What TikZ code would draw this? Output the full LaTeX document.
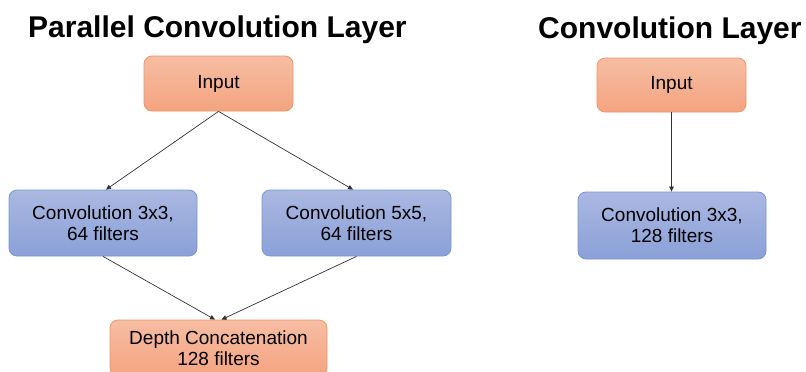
\documentclass[tikz,border=0pt]{standalone}
\usepackage{fontspec}
\setmainfont{Liberation Sans}
\usetikzlibrary{arrows.meta,calc}
\definecolor{orTop}{RGB}{246,189,163}
\definecolor{orBot}{RGB}{244,164,128}
\definecolor{orLine}{RGB}{240,148,100}
\definecolor{blTop}{RGB}{171,184,226}
\definecolor{blBot}{RGB}{138,160,215}
\definecolor{blLine}{RGB}{118,150,214}
\definecolor{arr}{RGB}{50,50,50}
\tikzset{
  orbox/.style={draw=orLine, line width=0.8pt, rounded corners=8pt, top color=orTop, bottom color=orBot, inner sep=0pt, align=center, font=\fontsize{19}{21}\selectfont},
  blbox/.style={draw=blLine, line width=0.8pt, rounded corners=8pt, top color=blTop, bottom color=blBot, inner sep=0pt, align=center, font=\fontsize{19}{21}\selectfont},
  ttl/.style={font=\fontsize{30}{36}\selectfont\bfseries, inner sep=0pt, anchor=base west},
  conn/.style={draw=arr, line width=0.7pt, -{Triangle[length=5pt,width=4.5pt]}}
}
\begin{document}
\begin{tikzpicture}[x=1pt,y=-1pt]
\useasboundingbox (0,0) rectangle (806,372);
\clip (0,0) rectangle (806,372);
\node[ttl] (t1) at (28,37) {Parallel Convolution Layer};
\node[ttl] (t2) at (538,38.5) {Convolution Layer};
\node[orbox, minimum width=149pt, minimum height=55pt] (inL) at (218.5,83.5) {Input};
\node[blbox, minimum width=188pt, minimum height=66pt] (c3) at (103,223) {Convolution 3x3,\\64 filters};
\node[blbox, minimum width=189pt, minimum height=66pt] (c5) at (356.5,223) {Convolution 5x5,\\64 filters};
\node[orbox, minimum width=217pt, minimum height=56pt] (cat) at (218.5,348) {Depth Concatenation\\128 filters};
\node[orbox, minimum width=149pt, minimum height=54pt] (inR) at (671.5,85) {Input};
\node[blbox, minimum width=188pt, minimum height=67pt] (cR) at (672,225.5) {Convolution 3x3,\\128 filters};
\draw[conn] (inL.south) -- ($(c3.north)+(3,0)$);
\draw[conn] (inL.south) -- ($(c5.north)+(-3.5,0)$);
\draw[conn] (c3.south) -- ($(cat.north)+(-3.5,0)$);
\draw[conn] (c5.south) -- ($(cat.north)+(3,0)$);
\draw[conn] (inR.south) -- (inR.south |- cR.north);
\end{tikzpicture}
\end{document}
